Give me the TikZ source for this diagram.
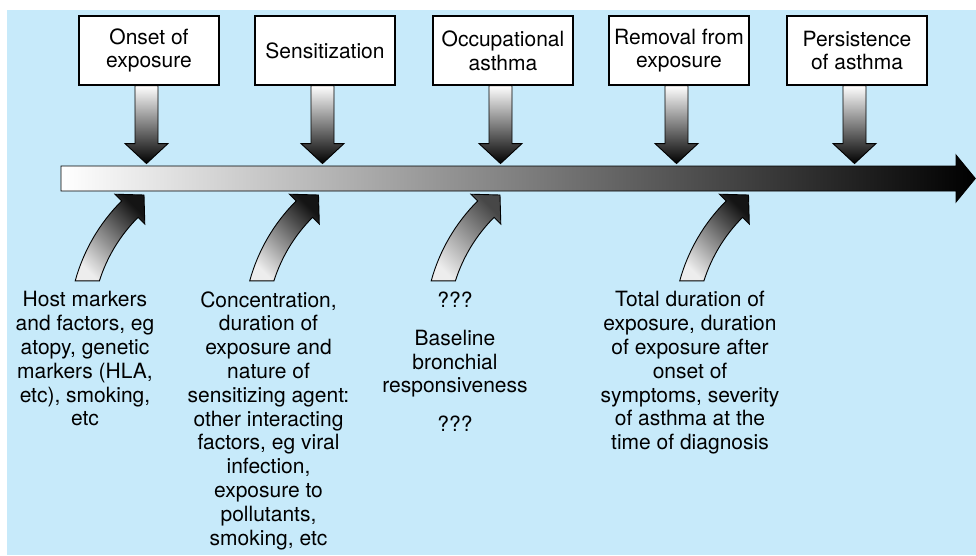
\documentclass[tikz,border=0pt]{standalone}
\usepackage{fontspec}
\setmainfont{TeX Gyre Heros}
\definecolor{bgblue}{RGB}{199,234,250}
\begin{document}
\begin{tikzpicture}[x=1pt,y=-1pt,
  txt/.style={font=\fontsize{21pt}{23.8pt}\selectfont},
  box/.style={txt,draw=black,line width=1.1pt,fill=white,minimum width=140pt,minimum height=69pt,align=center,inner sep=2pt},
  lbl/.style={txt,align=center,anchor=north,inner sep=0pt},
  pics/downarr/.style={code={
    \path[draw=black,line width=0.9pt,top color=white,bottom color=black]
      (-11.5,0) -- (-11.5,58) -- (-21.5,58) -- (0,78) -- (21.5,58) -- (11.5,58) -- (11.5,0) -- cycle;}},
  pics/curvarr/.style={code={
    \path[draw=black,line width=0.9pt,top color=#1,bottom color=white!93!black,shading angle=-45]
      (-68.8,85.9) .. controls (-60.5,55.6) and (-44.5,28.1) .. (-22.3,5.9)
      -- (-29,-0.8) -- (0,0) -- (0.8,29) -- (-5.9,22.3)
      .. controls (-23.7,40.1) and (-37,61.9) .. (-44.6,85.9) -- cycle;}},
  pics/curvarr/.default=black!92
]
\useasboundingbox (0,0) rectangle (976,555);
\fill[bgblue] (7,10) rectangle (976,555);

% top boxes
\node[box] (b1) at (149,50.5) {Onset of\\exposure};
\node[box] (b2) at (325,50.5) {Sensitization};
\node[box] (b3) at (503,50.5) {Occupational\\asthma};
\node[box] (b4) at (679,50.5) {Removal from\\exposure};
\node[box] (b5) at (857,50.5) {Persistence\\of asthma};

% down arrows
\foreach \b in {b1,b2,b3,b4,b5}
  \pic at ([xshift=-2.5pt]\b.south) {downarr};

% timeline
\path[draw=black,line width=0.9pt,left color=white,right color=black]
  (61,166) -- (956,166) -- (956,155) -- (975.3,178.5) -- (956,202) -- (956,191) -- (61,191) -- cycle;

% curved arrows
\coordinate (c1) at (144,195);
\coordinate (c2) at (318.5,195);
\coordinate (c3) at (500,195);
\coordinate (c4) at (748.5,195);
\pic at (c1) {curvarr};
\pic at (c2) {curvarr};
\pic at (c3) {curvarr=black!72};
\pic at (c4) {curvarr};

% labels
\node[lbl] (t1) at (85,291.3) {Host markers\\and factors, eg\\atopy, genetic\\markers (HLA,\\etc), smoking,\\etc};
\node[lbl] (t2) at (268.5,291.3) {Concentration,\\duration of\\exposure and\\nature of\\sensitizing agent:\\other interacting\\factors, eg viral\\infection,\\exposure to\\pollutants,\\smoking, etc};
\node[lbl] (t3) at (455,291.3) {???\\[14.5pt]Baseline\\bronchial\\responsiveness\\[14.5pt]???};
\node[lbl] (t4) at (690,291.3) {Total duration of\\exposure, duration\\of exposure after\\onset of\\symptoms, severity\\of asthma at the\\time of diagnosis};
\end{tikzpicture}
\end{document}
